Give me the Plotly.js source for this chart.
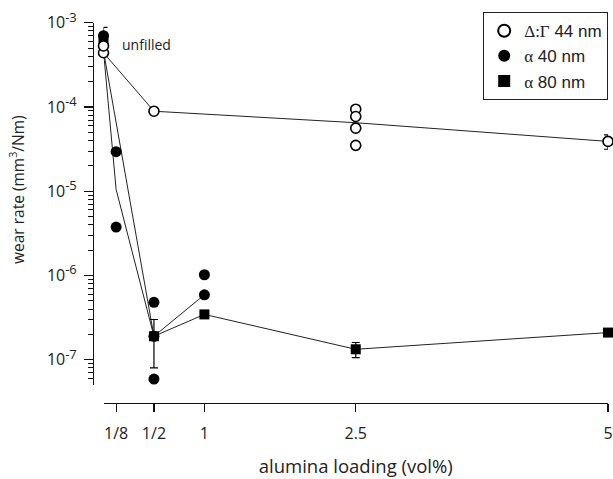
<!DOCTYPE html>
<html>
<head>
<meta charset="utf-8">
<script src="https://cdn.plot.ly/plotly-3.0.1.min.js"></script>
<style>html,body{margin:0;padding:0;background:#fff;}#chart{width:613px;height:479px;}</style>
</head>
<body>
<div id="chart"></div>
<script>
// ---- data (alumina loading in vol%, wear rate in mm^3/Nm) ----
const seriesNames = ['<span style="font-family:Liberation Serif">Δ:Γ</span> 44 nm',
                     '<span style="font-family:Liberation Serif">α</span> 40 nm',
                     '<span style="font-family:Liberation Serif">α</span> 80 nm'];

// Δ:Γ 44 nm (open circles)
const dgLineX = [0, 0.5, 2.5, 5];
const dgLineY = [4.4e-4, 8.9e-5, 6.5e-5, 3.9e-5];
const dgPtsX  = [0, 0, 0.5, 2.5, 2.5, 2.5, 2.5];
const dgPtsY  = [4.4e-4, 5.3e-4, 8.9e-5, 9.4e-5, 7.7e-5, 5.6e-5, 3.5e-5];
const dgErrX  = [5];
const dgErrY  = [3.9e-5];
const dgErr   = [0.75e-5];

// α 40 nm (filled circles)
const a40LineX = [0, 0.125, 0.5, 1];
const a40LineY = [4.6e-4, 1.05e-5, 1.9e-7, 5.9e-7];
const a40PtsX  = [0.125, 0.125, 0.5, 0.5, 0.5, 1, 1];
const a40PtsY  = [2.95e-5, 3.75e-6, 4.8e-7, 1.9e-7, 5.9e-8, 1.02e-6, 5.9e-7];
const a40ErrX  = [0];
const a40ErrY  = [7.0e-4];
const a40Err   = [1.8e-4];

// α 80 nm (filled squares)
const a80LineX = [0, 0.5, 1, 2.5, 5];
const a80LineY = [4.6e-4, 1.9e-7, 3.45e-7, 1.33e-7, 2.1e-7];
const a80PtsX  = [0, 1, 5];
const a80PtsY  = [6.0e-4, 3.45e-7, 2.1e-7];
const a80ErrX  = [0.5, 2.5];
const a80ErrY  = [1.9e-7, 1.33e-7];
const a80Err   = [1.1e-7, 0.27e-7];

// axis ticks
const xTickVals = [0.125, 0.5, 1, 2.5, 5];
const xTickText = ['1/8', '1/2', '1', '2.5', '5'];
const yTickVals = [1e-7, 1e-6, 1e-5, 1e-4, 1e-3];
const yTickExp  = ['-7', '-6', '-5', '-4', '-3'];
const yTickText = yTickExp.map(e => '10<sup><span style="font-size:13px">' + e + '</span></sup>');
const yMinorVals = [];
[-8, -7, -6, -5, -4].forEach(e => { for (let m = 2; m <= 9; m++) { const v = m * Math.pow(10, e); if (v >= 5e-8 && v < 1e-3) yMinorVals.push(v); } });

// ---- styling ----
const W = 613, H = 479;
const lineStyle = {color: '#222', width: 1};
const errStyle = (arr) => ({type: 'data', array: arr, visible: true, color: '#000', thickness: 1.2, width: 4});
const openMk = {symbol: 'circle', size: 10, color: '#fff', line: {color: '#000', width: 1.6}};
const circMk = {symbol: 'circle', size: 11, color: '#000', line: {color: '#000', width: 0}};
const sqMk   = {symbol: 'square', size: 10, color: '#000', line: {color: '#000', width: 0}};

const traces = [
  {x: dgLineX, y: dgLineY, mode: 'lines', line: lineStyle, showlegend: false, hoverinfo: 'skip'},
  {x: a40LineX, y: a40LineY, mode: 'lines', line: lineStyle, showlegend: false, hoverinfo: 'skip'},
  {x: a80LineX, y: a80LineY, mode: 'lines', line: lineStyle, showlegend: false, hoverinfo: 'skip'},
  {x: a80PtsX, y: a80PtsY, mode: 'markers', marker: sqMk, name: seriesNames[2], legendrank: 3, cliponaxis: false},
  {x: a80ErrX, y: a80ErrY, mode: 'markers', marker: sqMk, error_y: errStyle(a80Err), showlegend: false, cliponaxis: false},
  {x: a40PtsX, y: a40PtsY, mode: 'markers', marker: circMk, name: seriesNames[1], legendrank: 2, cliponaxis: false},
  {x: a40ErrX, y: a40ErrY, mode: 'markers', marker: circMk, error_y: errStyle(a40Err), showlegend: false, cliponaxis: false},
  {x: dgPtsX, y: dgPtsY, mode: 'markers', marker: openMk, name: seriesNames[0], legendrank: 1, cliponaxis: false},
  {x: dgErrX, y: dgErrY, mode: 'markers', marker: openMk, error_y: errStyle(dgErr), showlegend: false, cliponaxis: false}
];

const font = 'Open Sans, Noto Sans, sans-serif';
const layout = {
  width: W, height: H,
  margin: {l: 0, r: 0, t: 0, b: 0},
  paper_bgcolor: '#fff', plot_bgcolor: '#fff',
  showlegend: true,
  font: {family: font, color: '#222', size: 16},
  xaxis: {
    type: 'linear', range: [0, 5],
    domain: [103.5 / W, 608 / W],
    anchor: 'free', position: 1 - 403 / H,
    showgrid: false, zeroline: false,
    showline: true, linecolor: '#111', linewidth: 1.2,
    ticks: 'outside', ticklen: 8, tickwidth: 1.2, tickcolor: '#111',
    tickmode: 'array', tickvals: xTickVals, ticktext: xTickText,
    tickfont: {family: font, size: 16, color: '#222'},
    ticklabelstandoff: 8,
    title: {text: 'alumina loading (vol%)', font: {family: font, size: 18.5, color: '#222'}, standoff: 16}
  },
  yaxis: {
    type: 'log', range: [-7.3, -3],
    domain: [1 - 385 / H, 1 - 22.7 / H],
    anchor: 'free', position: 93 / W,
    showgrid: false, zeroline: false,
    showline: true, linecolor: '#111', linewidth: 1.2,
    ticks: 'outside', ticklen: 9, tickwidth: 1.2, tickcolor: '#111',
    tickmode: 'array', tickvals: yTickVals, ticktext: yTickText,
    tickfont: {family: font, size: 16, color: '#222'},
    ticklabelstandoff: 4,
    minor: {tickmode: 'array', tickvals: yMinorVals, ticks: 'outside', ticklen: 5, tickwidth: 1, tickcolor: '#111', showgrid: false}
  },
  legend: {
    x: 608 / W, xanchor: 'right', y: 1 - 12 / H, yanchor: 'top',
    bordercolor: '#222', borderwidth: 1.2, bgcolor: '#fff',
    font: {family: 'Liberation Sans, Arial, sans-serif', size: 17, color: '#222'},
    traceorder: 'normal', itemsizing: 'constant', tracegroupgap: 2
  },
  annotations: [
    {text: 'unfilled', xref: 'paper', yref: 'paper', x: 120 / W, y: 1 - 44 / H, xanchor: 'left', yanchor: 'middle',
     showarrow: false, font: {family: font, size: 14, color: '#222'}},
    {text: 'wear rate (mm<sup>3</sup>/Nm)', xref: 'paper', yref: 'paper', x: 17 / W, y: 1 - 190 / H,
     xanchor: 'center', yanchor: 'middle', textangle: -90, showarrow: false,
     font: {family: font, size: 15.5, color: '#222'}}
  ]
};

Plotly.newPlot('chart', traces, layout, {displayModeBar: false, staticPlot: true});
</script>
</body>
</html>
